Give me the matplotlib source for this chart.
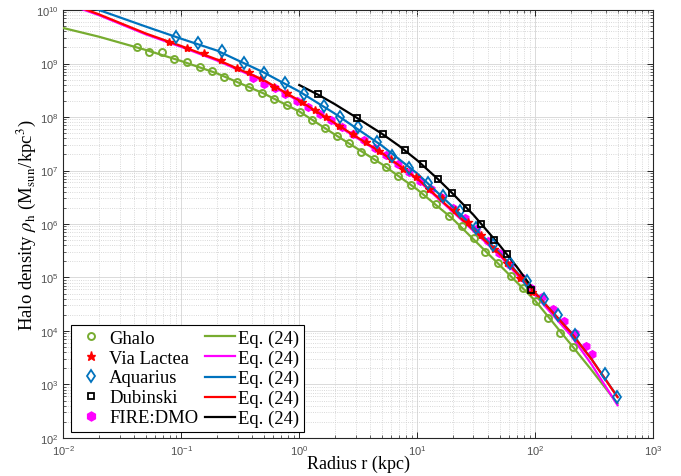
import numpy as np
import matplotlib.pyplot as plt
from matplotlib.ticker import LogLocator, NullFormatter
from matplotlib.lines import Line2D

plt.rcParams['font.family'] = 'Liberation Sans'
plt.rcParams['mathtext.fontset'] = 'stix'

## data (r in kpc, rho in Msun/kpc^3)
ghalo_r = [0.0417, 0.0531, 0.0679, 0.0869, 0.112, 0.1435, 0.181, 0.232, 0.295, 0.378,
           0.481, 0.616, 0.789, 1.01, 1.28, 1.64, 2.08, 2.63, 3.37, 4.28, 5.48, 6.93,
           8.82, 11.3, 14.4, 18.5, 23.8, 30.1, 37.9, 48.1, 62.0, 79.4, 101.6, 128, 164, 209]
ghalo_rho = [2.06e9, 1.66e9, 1.62e9, 1.21e9, 1.08e9, 8.7e8, 7.33e8, 5.6e8, 4.46e8, 3.64e8,
             2.85e8, 2.2e8, 1.68e8, 1.26e8, 8.8e7, 6.3e7, 4.36e7, 3.27e7, 2.22e7, 1.64e7,
             1.16e7, 8.0e6, 5.43e6, 3.59e6, 2.33e6, 1.43e6, 9.3e5, 5.4e5, 3.03e5, 1.87e5,
             1.05e5, 6.3e4, 3.64e4, 1.73e4, 9.2e3, 4.96e3]

vl_r = [0.0783, 0.1125, 0.157, 0.216, 0.294, 0.376, 0.472, 0.608, 0.789, 1.045, 1.35, 1.70,
        2.16, 2.86, 3.71, 4.74, 6.04, 7.58, 9.71, 12.6, 16.1, 20.8, 26.8, 34.5, 44.5, 57.3,
        73.9, 93.4]
vl_rho = [2.55e9, 1.99e9, 1.55e9, 1.14e9, 8.24e8, 7.08e8, 5.36e8, 3.59e8, 2.77e8, 1.93e8,
          1.35e8, 9.87e7, 6.87e7, 4.81e7, 3.36e7, 2.34e7, 1.64e7, 1.07e7, 7.46e6, 4.51e6,
          3.06e6, 1.83e6, 1.09e6, 6.1e5, 3.41e5, 1.87e5, 9.8e4, 5.36e4]

aq_r = [0.0897, 0.138, 0.222, 0.343, 0.504, 0.759, 1.10, 1.62, 2.20, 3.15, 4.56, 6.16, 8.55,
        12.4, 16.4, 22.9, 31.3, 43.6, 60.9, 84.7, 118, 155, 216, 388, 493]
aq_rho = [3.09e9, 2.42e9, 1.71e9, 1.03e9, 6.73e8, 4.26e8, 2.69e8, 1.61e8, 1.02e8, 6.5e7,
          3.41e7, 1.89e7, 1.10e7, 5.76e6, 3.30e6, 1.75e6, 8.5e5, 4.1e5, 1.85e5, 8.5e4,
          4.0e4, 2.0e4, 8.4e3, 1.57e3, 5.77e2]

dub_r = [1.44, 3.11, 5.13, 7.83, 11.1, 15.0, 19.9, 26.6, 35.0, 45.0, 57.9, 92.9]
dub_rho = [2.69e8, 9.46e7, 4.75e7, 2.45e7, 1.32e7, 6.85e6, 3.75e6, 1.99e6, 1.0e6, 5.13e5,
           2.75e5, 5.84e4]

fire_r = [0.405, 0.505, 0.620, 0.760, 0.953, 1.19, 1.49, 1.87, 2.31, 2.86, 3.52, 4.37, 5.46,
          6.87, 8.55, 10.6, 13.0, 16.0, 20.1, 25.3, 31.8, 39.6, 49.1, 60.9, 75.4, 92.5, 114,
          142, 175, 216, 268, 301]
fire_rho = [5.36e8, 4.23e8, 3.56e8, 2.69e8, 2.02e8, 1.51e8, 1.16e8, 8.67e7, 6.37e7, 4.81e7,
            3.64e7, 2.69e7, 1.91e7, 1.32e7, 9.37e6, 6.50e6, 4.51e6, 3.13e6, 1.99e6, 1.29e6,
            8.07e5, 4.81e5, 2.87e5, 1.71e5, 1.0e5, 6.23e4, 4.32e4, 2.58e4, 1.57e4, 8.98e3,
            5.25e3, 3.72e3]

# Eq. (24) curves, sampled off the figure
fit_r = [0.01, 0.02, 0.05, 0.1, 0.2, 0.5, 1, 2, 5, 10, 20, 50, 100, 200, 300, 500]
fit_green = [4.6e9, 3.17e9, 1.79e9, 1.11e9, 6.56e8, 2.75e8, 1.27e8, 4.71e7, 1.32e7, 4.42e6,
             1.25e6, 1.71e5, 3.7e4, 5.7e3, 1.88e3, 4.4e2]
fit_magenta = [1.38e10, 8.0e9, 3.5e9, 2.04e9, 1.14e9, 4.7e8, 1.95e8, 7.4e7, 2.07e7, 6.8e6,
               1.7e6, 2.6e5, 4.7e4, 8.4e3, 2.4e3, 4.1e2]
fit_blue = [1.6e10, 1.0e10, 4.9e9, 2.9e9, 1.75e9, 6.8e8, 3.0e8, 1.16e8, 2.93e7, 8.8e6,
            2.1e6, 2.9e5, 5.2e4, 9.6e3, 3.0e3, 5.9e2]
fit_red = [1.45e10, 8.3e9, 3.64e9, 2.12e9, 1.19e9, 4.9e8, 2.03e8, 7.7e7, 2.15e7, 7.08e6,
           1.77e6, 2.75e5, 5.13e4, 9.5e3, 3.0e3, 5.8e2]
fit_black_r = [1.0, 1.5, 2, 3, 5, 7, 10, 15, 20, 30, 50, 70, 95]
fit_black = [3.96e8, 2.5e8, 1.74e8, 1.0e8, 4.9e7, 2.9e7, 1.55e7, 6.9e6, 3.7e6, 1.48e6,
             4.0e5, 1.58e5, 6.3e4]

green = '#77AC30'
blue = '#0072BD'
red = '#FF0000'
magenta = '#FF00FF'

fig = plt.figure(figsize=(6.81, 4.77), dpi=100)
ax = fig.add_axes([0.0932, 0.0797, 0.8657, 0.8972])
ax.set_xscale('log')
ax.set_yscale('log')

ax.plot(fire_r, fire_rho, 'h', color=magenta, ms=5.5, zorder=2)

ax.plot(fit_r, fit_green, '-', color=green, lw=1.6, zorder=3)
ax.plot(fit_r, fit_magenta, '-', color=magenta, lw=1.6, zorder=3)
ax.plot(fit_r, fit_blue, '-', color=blue, lw=1.6, zorder=3)
ax.plot(fit_r, fit_red, '-', color=red, lw=1.6, zorder=3)
ax.plot(fit_black_r, fit_black, '-', color='k', lw=1.6, zorder=3)

ax.plot(ghalo_r, ghalo_rho, 'o', mfc='none', mec=green, ms=5, mew=1.4, zorder=4)
ax.plot(vl_r, vl_rho, '*', color=red, ms=6, zorder=4)
ax.plot(aq_r, aq_rho, 'd', mfc='none', mec=blue, ms=6, mew=1.3, zorder=4)
ax.plot(dub_r, dub_rho, 's', mfc='none', mec='k', ms=4.5, mew=1.3, zorder=4)

ax.set_xlim(1e-2, 1e3)
ax.set_ylim(1e2, 1e10)

ax.xaxis.set_major_locator(LogLocator(base=10, numticks=20))
ax.yaxis.set_major_locator(LogLocator(base=10, numticks=20))
ax.xaxis.set_minor_locator(LogLocator(base=10, subs=np.arange(2, 10), numticks=100))
ax.yaxis.set_minor_locator(LogLocator(base=10, subs=np.arange(2, 10), numticks=100))
ax.xaxis.set_minor_formatter(NullFormatter())
ax.yaxis.set_minor_formatter(NullFormatter())

ax.set_axisbelow(True)
ax.grid(which='major', color='#dadada', lw=0.7, ls='-')
ax.grid(which='minor', color='#cccccc', lw=0.6, ls=':')

ax.tick_params(which='both', direction='in', top=True, right=True, color='#262626',
               labelcolor='#505050', labelsize=8)
ax.tick_params(which='major', length=4, width=0.7)
ax.tick_params(which='minor', length=2, width=0.5)
for s in ax.spines.values():
    s.set_color('#262626')
    s.set_linewidth(0.8)

ax.set_xlabel('Radius r (kpc)', fontsize=13, family='Liberation Serif')
ax.set_ylabel(r'Halo density $\rho_{\mathrm{h}}$ (M$_{\mathrm{sun}}$/kpc$^{3}$)',
              fontsize=13.5, family='Liberation Serif')
ax.xaxis.set_label_coords(0.5, -0.040)
ax.yaxis.set_label_coords(-0.043, 0.5)

## legend: markers in the first column, curves in the second
hs = [Line2D([], [], ls='none', marker='o', mfc='none', mec=green, ms=5, mew=1.4),
      Line2D([], [], ls='none', marker='*', color=red, ms=6.5),
      Line2D([], [], ls='none', marker='d', mfc='none', mec=blue, ms=6, mew=1.3),
      Line2D([], [], ls='none', marker='s', mfc='none', mec='k', ms=4.5, mew=1.3),
      Line2D([], [], ls='none', marker='h', color=magenta, ms=6.5),
      Line2D([], [], color=green, lw=1.6),
      Line2D([], [], color=magenta, lw=1.6),
      Line2D([], [], color=blue, lw=1.6),
      Line2D([], [], color=red, lw=1.6),
      Line2D([], [], color='k', lw=1.6)]
labels = ['Ghalo', 'Via Lactea', 'Aquarius', 'Dubinski', 'FIRE:DMO'] + ['Eq. (24)'] * 5
leg = ax.legend(hs, labels, ncol=2, loc='lower left', bbox_to_anchor=(0.0127, 0.014),
                borderaxespad=0, prop={'family': 'Liberation Serif', 'size': 13.4},
                fancybox=False, framealpha=1, edgecolor='k', handlelength=1.65,
                handletextpad=0.15, columnspacing=0.34, labelspacing=0.15, borderpad=0.25)
leg.get_frame().set_linewidth(0.8)

fig.savefig('out.png', dpi=100)
